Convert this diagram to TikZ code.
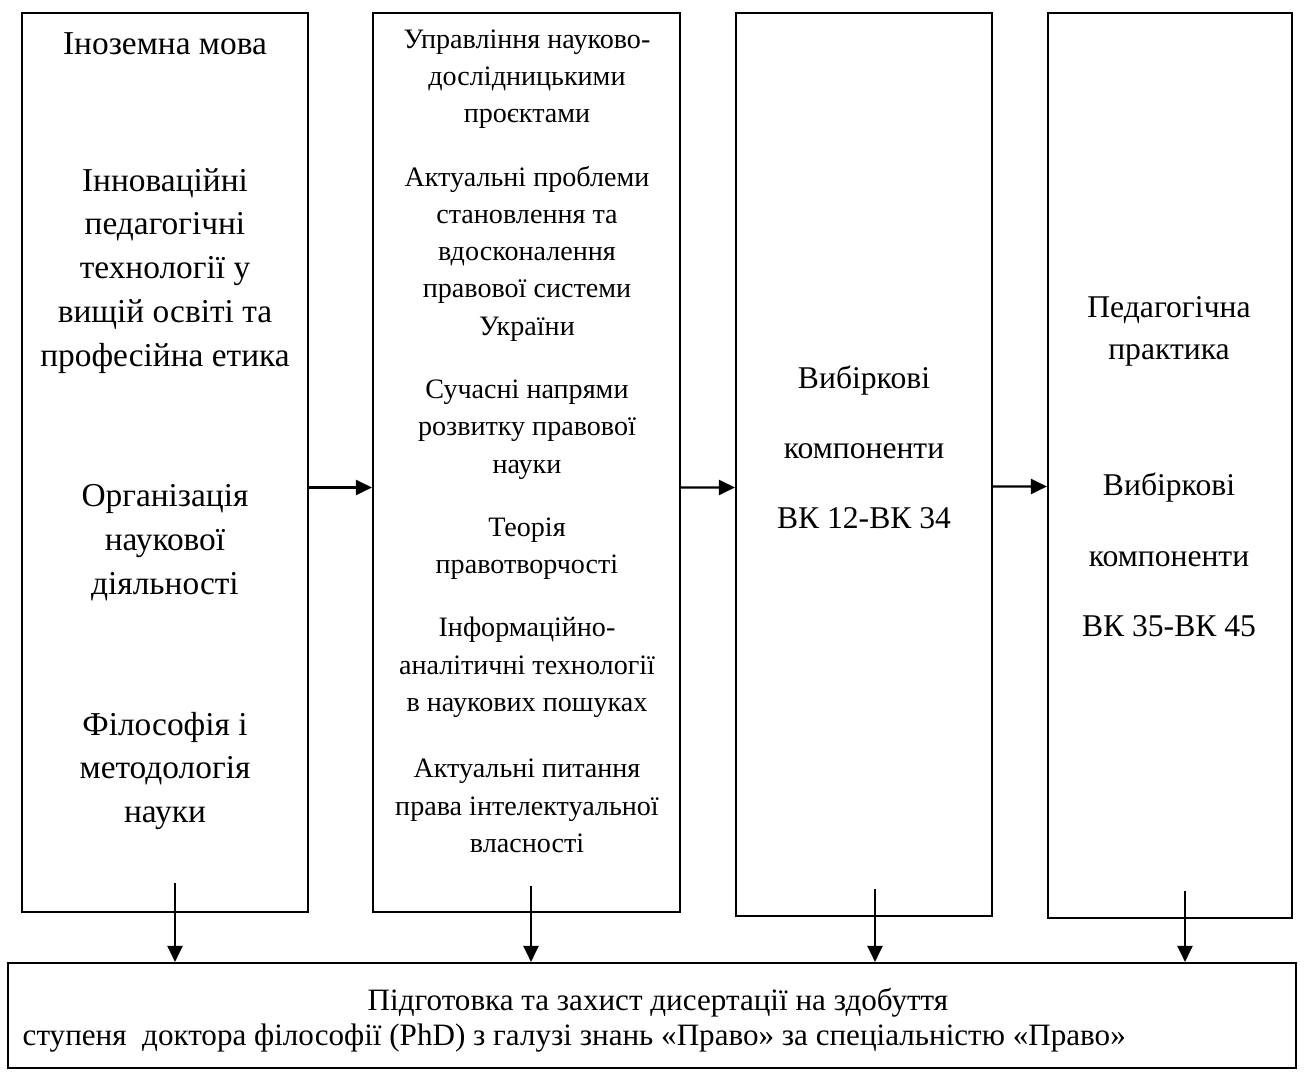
\documentclass[tikz,border=0pt]{standalone}
\usepackage{fontspec}
\setmainfont{Liberation Serif}
\usepackage{tikz}
\usetikzlibrary{arrows.meta}
\tikzstyle{column} = [rectangle, draw=black, line width=0.6pt, inner sep=0pt]
\tikzstyle{course} = [align=center, inner sep=0pt, font=\fontsize{9.5pt}{12.5pt}\selectfont]
\tikzstyle{module} = [align=center, inner sep=0pt, font=\fontsize{8pt}{10.6pt}\selectfont]
\tikzstyle{elective} = [align=center, inner sep=0pt, font=\fontsize{9pt}{20pt}\selectfont]
\tikzstyle{thesis} = [align=left, inner sep=0pt, font=\fontsize{8.85pt}{9.9pt}\selectfont]
\tikzstyle{arrow} = [line width=0.6pt, -{Triangle[length=1.6mm, width=1.5mm]}]

\begin{document}
\begin{tikzpicture}
\useasboundingbox (0,0) rectangle (13.07,-10.72);

\node (b1) [column, minimum width=2.86cm, minimum height=8.99cm] at (1.65,-4.625) {};
\node (b2) [column, minimum width=3.07cm, minimum height=8.99cm] at (5.265,-4.625) {};
\node (b3) [column, minimum width=2.56cm, minimum height=9.03cm] at (8.64,-4.645) {};
\node (b4) [column, minimum width=2.44cm, minimum height=9.05cm] at (11.70,-4.655) {};
\node (bottom) [column, minimum width=12.88cm, minimum height=1.05cm] at (6.52,-10.155) {};

% first column
\node (c1) [course] at (1.65,-0.44) {Іноземна мова};
\node (c2) [course] at (1.65,-2.71) {Інноваційні\\педагогічні\\технології у\\вищій освіті та\\професійна етика};
\node (c3) [course] at (1.65,-5.43) {Організація\\наукової\\діяльності};
\node (c4) [course] at (1.65,-7.71) {Філософія і\\методологія\\науки};

% second column
\node (m1) [module] at (5.27,-0.79) {Управління науково-\\дослідницькими\\проєктами};
\node (m2) [module] at (5.27,-2.535) {Актуальні проблеми\\становлення та\\вдосконалення\\правової системи\\України};
\node (m3) [module] at (5.27,-4.295) {Сучасні напрями\\розвитку правової\\науки};
\node (m4) [module] at (5.27,-5.485) {Теорія\\правотворчості};
\node (m5) [module] at (5.27,-6.675) {Інформаційно-\\аналітичні технології\\в наукових пошуках};
\node (m6) [module] at (5.27,-8.06) {Актуальні питання\\права інтелектуальної\\власності};

% electives
\node (e1) [elective] at (8.64,-4.475) {Вибіркові\\компоненти\\ВК 12-ВК 34};
\node (p1) [elective, font=\fontsize{9pt}{11.9pt}\selectfont] at (11.69,-3.31) {Педагогічна\\практика};
\node (e2) [elective] at (11.69,-5.55) {Вибіркові\\компоненти\\ВК 35-ВК 45};

\node (t1) [thesis, anchor=west] at (0.22,-10.2) {\hspace*{3.45cm}Підготовка та захист дисертації на здобуття\\ступеня \ доктора філософії (PhD) з галузі знань «Право» за спеціальністю «Право»};

\draw [arrow] ([yshift=-2.5mm]b1.east) -- ([yshift=-2.5mm]b2.west);
\draw [arrow] ([yshift=-2.5mm]b2.east) -- ([yshift=-2.3mm]b3.west);
\draw [arrow] ([yshift=-2.2mm]b3.east) -- ([yshift=-2.1mm]b4.west);

\coordinate (s1) at ([xshift=1mm,yshift=3mm]b1.south);
\coordinate (s2) at ([xshift=0.45mm,yshift=2.7mm]b2.south);
\coordinate (s3) at ([xshift=1.1mm,yshift=2.8mm]b3.south);
\coordinate (s4) at ([xshift=1.5mm,yshift=2.8mm]b4.south);
\draw [arrow] (s1) -- (s1 |- bottom.north);
\draw [arrow] (s2) -- (s2 |- bottom.north);
\draw [arrow] (s3) -- (s3 |- bottom.north);
\draw [arrow] (s4) -- (s4 |- bottom.north);

\end{tikzpicture}
\end{document}
